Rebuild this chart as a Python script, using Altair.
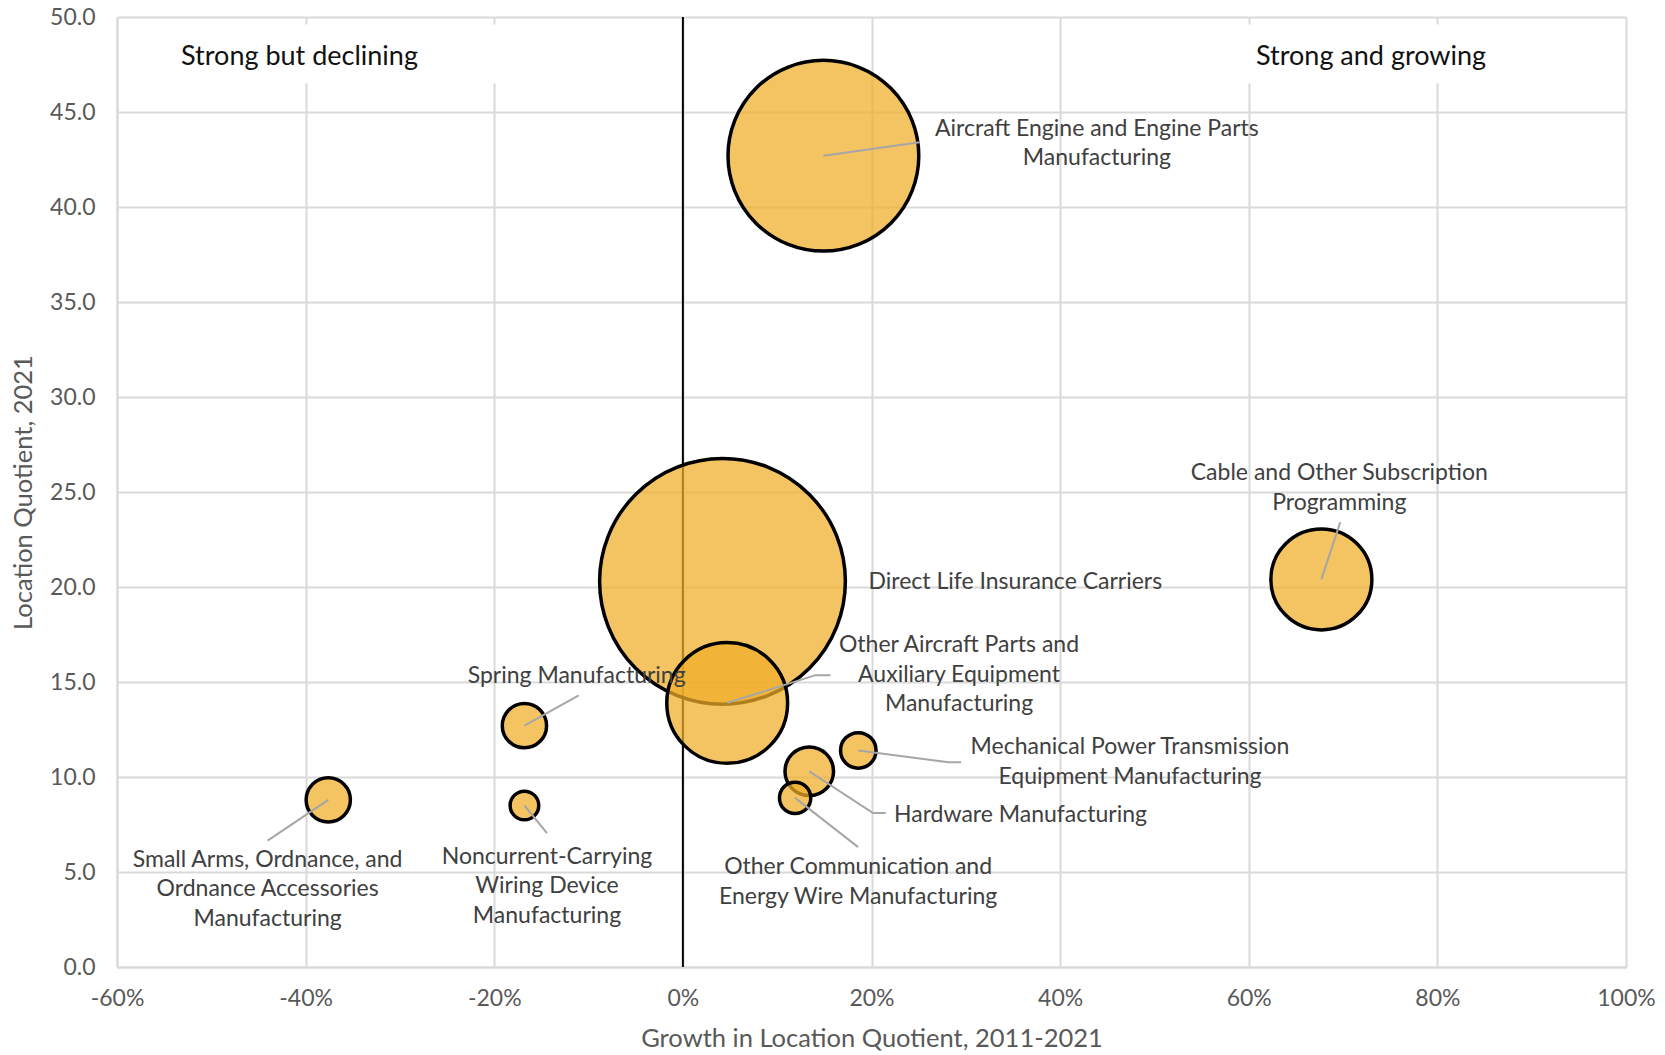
import altair as alt
import pandas as pd

# Industries: growth in location quotient (2011-2021), location quotient (2021), employment
industries = [
    "Aircraft Engine and Engine Parts Manufacturing",
    "Direct Life Insurance Carriers",
    "Other Aircraft Parts and Auxiliary Equipment Manufacturing",
    "Cable and Other Subscription Programming",
    "Spring Manufacturing",
    "Small Arms, Ordnance, and Ordnance Accessories Manufacturing",
    "Noncurrent-Carrying Wiring Device Manufacturing",
    "Mechanical Power Transmission Equipment Manufacturing",
    "Hardware Manufacturing",
    "Other Communication and Energy Wire Manufacturing",
]
lq_growth = [0.149, 0.042, 0.047, 0.677, -0.168, -0.376, -0.168, 0.186, 0.134, 0.119]
lq_2021 = [42.7, 20.3, 13.9, 20.4, 12.7, 8.8, 8.5, 11.4, 10.3, 8.9]
employment = [9100, 15100, 3650, 2550, 490, 490, 205, 315, 590, 245]

# Wrapped label text for each bubble
label_lines = [
    "Aircraft Engine and Engine Parts\nManufacturing",
    "Direct Life Insurance Carriers",
    "Other Aircraft Parts and\nAuxiliary Equipment\nManufacturing",
    "Cable and Other Subscription\nProgramming",
    "Spring Manufacturing",
    "Small Arms, Ordnance, and\nOrdnance Accessories\nManufacturing",
    "Noncurrent-Carrying\nWiring Device\nManufacturing",
    "Mechanical Power Transmission\nEquipment Manufacturing",
    "Hardware Manufacturing",
    "Other Communication and\nEnergy Wire Manufacturing",
]
# Label anchor (centre x, first line y) in data units
label_x = [0.439, 0.3525, 0.2928, 0.696, -0.1126, -0.4403, -0.1441, 0.4741, 0.358, 0.1858]
label_y = [44.13, 20.28, 16.93, 25.98, 15.31, 5.64, 5.81, 11.56, 7.99, 5.25]

# Leader-line bends/ends (after the bubble centre), in data units
leader_x = [[0.2511], [], [0.1408, 0.1565], [0.697], [-0.1104], [-0.4403], [-0.1441],
            [0.2815, 0.295], [0.2016, 0.2151], [0.1858]]
leader_y = [[43.41], [], [15.36, 15.36], [23.41], [14.30], [6.65], [7.04],
            [10.78, 10.78], [8.10, 8.10], [6.31]]

quadrant_text = ["Strong but declining", "Strong and growing"]
quadrant_x = [-0.4065, 0.7297]
quadrant_y = [47.92, 47.92]
quadrant_box_x = [[-0.55, -0.18], [0.58, 0.87]]
quadrant_box_y = [46.5, 49.6]

x_ticks = [-0.6, -0.4, -0.2, 0.0, 0.2, 0.4, 0.6, 0.8, 1.0]
y_ticks = [0, 5, 10, 15, 20, 25, 30, 35, 40, 45, 50]

FONT = "Lato"
GRID = "#D9D9D9"

bubbles = pd.DataFrame({
    "industry": industries,
    "growth": lq_growth,
    "lq": lq_2021,
    "employment": employment,
})
labels = pd.DataFrame({"text": label_lines, "x": label_x, "y": label_y})

leader_rows = []
for i, name in enumerate(industries):
    pts = list(zip(leader_x[i], leader_y[i]))
    if not pts:
        continue
    leader_rows.append({"id": i, "seq": 0, "x": lq_growth[i], "y": lq_2021[i]})
    for k, (px, py) in enumerate(pts, start=1):
        leader_rows.append({"id": i, "seq": k, "x": px, "y": py})
leaders = pd.DataFrame(leader_rows)

quad = pd.DataFrame({"text": quadrant_text, "x": quadrant_x, "y": quadrant_y})
boxes = pd.DataFrame({
    "x": [b[0] for b in quadrant_box_x],
    "x2": [b[1] for b in quadrant_box_x],
    "y": [quadrant_box_y[0]] * 2,
    "y2": [quadrant_box_y[1]] * 2,
})

xscale = alt.Scale(domain=[-0.6, 1.0], nice=False, zero=False)
yscale = alt.Scale(domain=[0, 50], nice=False)

# plain hyphen for negative percentages
x_axis = alt.Axis(
    values=x_ticks, title="Growth in Location Quotient, 2011-2021",
    labelExpr="replace(format(datum.value, '.0%'), '\u2212', '-')",
    grid=True, ticks=False, labelPadding=20, titlePadding=16, labelFlush=False,
)
y_axis = alt.Axis(
    values=y_ticks, format=".1f", title="Location Quotient, 2021",
    grid=True, ticks=False, labelPadding=22, titlePadding=13, labelFlush=False,
)

base_x = alt.X("x:Q", scale=xscale, axis=x_axis)
base_y = alt.Y("y:Q", scale=yscale, axis=y_axis)

white_boxes = alt.Chart(boxes).mark_rect(color="white").encode(
    x=base_x, x2="x2:Q", y=base_y, y2="y2:Q"
)

zero_line = alt.Chart(pd.DataFrame({"x": [0.0]})).mark_rule(
    color="black", strokeWidth=2
).encode(x=alt.X("x:Q", scale=xscale, axis=x_axis))

circles = alt.Chart(bubbles).mark_circle(
    color="#F0AE29", opacity=1, fillOpacity=0.73, stroke="black",
    strokeWidth=3.5, strokeOpacity=1,
).encode(
    x=alt.X("growth:Q", scale=xscale, axis=x_axis),
    y=alt.Y("lq:Q", scale=yscale, axis=y_axis),
    size=alt.Size("employment:Q", scale=alt.Scale(domain=[0, 15100], range=[0, 60400]), legend=None),
    order=alt.Order("employment:Q", sort="descending"),
)

leader_lines = alt.Chart(leaders).mark_line(color="#A6A6A6", strokeWidth=2).encode(
    x=base_x, y=base_y, detail="id:N", order="seq:Q"
)

label_marks = alt.Chart(labels).mark_text(
    font=FONT, fontSize=23, color="#404040", align="center", baseline="middle",
    lineBreak="\n", lineHeight=29.5,
).encode(x=base_x, y=base_y, text="text:N")

quad_marks = alt.Chart(quad).mark_text(
    font=FONT, fontSize=27, color="#111111", align="center", baseline="middle",
).encode(x=base_x, y=base_y, text="text:N")

chart = alt.layer(
    white_boxes, zero_line, circles, leader_lines, label_marks, quad_marks
).properties(
    width=1509, height=950,
    padding={"left": 117, "top": 17, "right": 39, "bottom": 88},
    autosize=alt.AutoSizeParams(type="none"),
    background="white",
).configure_view(stroke=None).configure_axis(
    labelFont=FONT, titleFont=FONT, labelFontSize=23, titleFontSize=25.5,
    labelColor="#595959", titleColor="#595959", titleFontWeight="normal",
    gridColor=GRID, gridWidth=2, domainColor=GRID, domainWidth=2,
)

chart.save("out.html", embed_options={"renderer": "svg", "actions": False})
